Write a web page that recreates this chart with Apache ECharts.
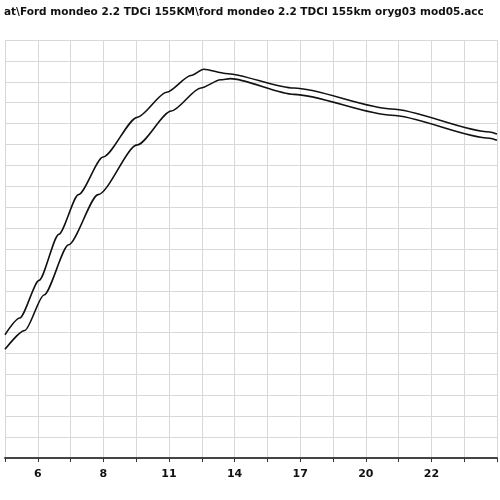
<!DOCTYPE html>
<html><head><meta charset="utf-8">
<script src="https://cdn.jsdelivr.net/npm/echarts@6/dist/echarts.min.js"></script>
<style>html,body{margin:0;padding:0;background:#fff}#c{width:500px;height:500px}</style>
</head><body><div id="c"></div>
<script>
// grid-unit positions of the x labels
var xLabels = ['', '6', '', '8', '', '11', '', '14', '', '17', '', '20', '', '22', '', ''];
// upper curve [x, y]
var upper = [[0, 5.9], [0.45, 6.7], [1.04, 8.5], [1.64, 10.7], [2.24, 12.6], [2.99, 14.4], [4.03, 16.3], [4.93, 17.5], [5.67, 18.3], [6.06, 18.6], [6.72, 18.4], [8.81, 17.7], [11.79, 16.7], [14.78, 15.6], [15, 15.5]];
// lower curve [x, y]
var lower = [[0, 5.2], [0.6, 6.1], [1.19, 7.8], [1.94, 10.2], [2.84, 12.6], [4.03, 14.98], [5.07, 16.6], [5.97, 17.7], [6.57, 18.1], [6.87, 18.15], [8.81, 17.4], [11.79, 16.4], [14.78, 15.3], [15, 15.2]];

var chart = echarts.init(document.getElementById('c'));
chart.setOption({
    animation: false,
    backgroundColor: '#fff',
    title: {
        text: 'at\\Ford mondeo 2.2 TDCi 155KM\\ford mondeo 2.2 TDCI 155km oryg03 mod05.acc',
        left: -1, top: 2,
        textStyle: { fontFamily: 'DejaVu Sans', fontSize: 10.5, fontWeight: 'bold', color: '#111' }
    },
    grid: { left: 5, top: 40, width: 502, height: 418 },
    xAxis: {
        type: 'value', min: 0, max: 15, interval: 1,
        axisLine: { lineStyle: { color: '#444', width: 2 } },
        axisTick: { show: true, length: 4, lineStyle: { color: '#333' } },
        axisLabel: {
            margin: 11, color: '#111', fontFamily: 'DejaVu Sans', fontSize: 11, fontWeight: 'bold',
            formatter: function (v) { return xLabels[Math.round(v)] || ''; }
        },
        splitLine: { lineStyle: { color: '#d8d8d8', width: 1 } }
    },
    yAxis: {
        type: 'value', min: 0, max: 20, interval: 1,
        axisLine: { show: false }, axisTick: { show: false }, axisLabel: { show: false },
        splitLine: { lineStyle: { color: '#d8d8d8', width: 1 } }
    },
    series: [
        { type: 'line', data: upper, smooth: 0.25, smoothMonotone: 'x', symbol: 'none', lineStyle: { color: '#111', width: 1.6 } },
        { type: 'line', data: lower, smooth: 0.25, smoothMonotone: 'x', symbol: 'none', lineStyle: { color: '#111', width: 1.6 } }
    ]
});
</script></body></html>
